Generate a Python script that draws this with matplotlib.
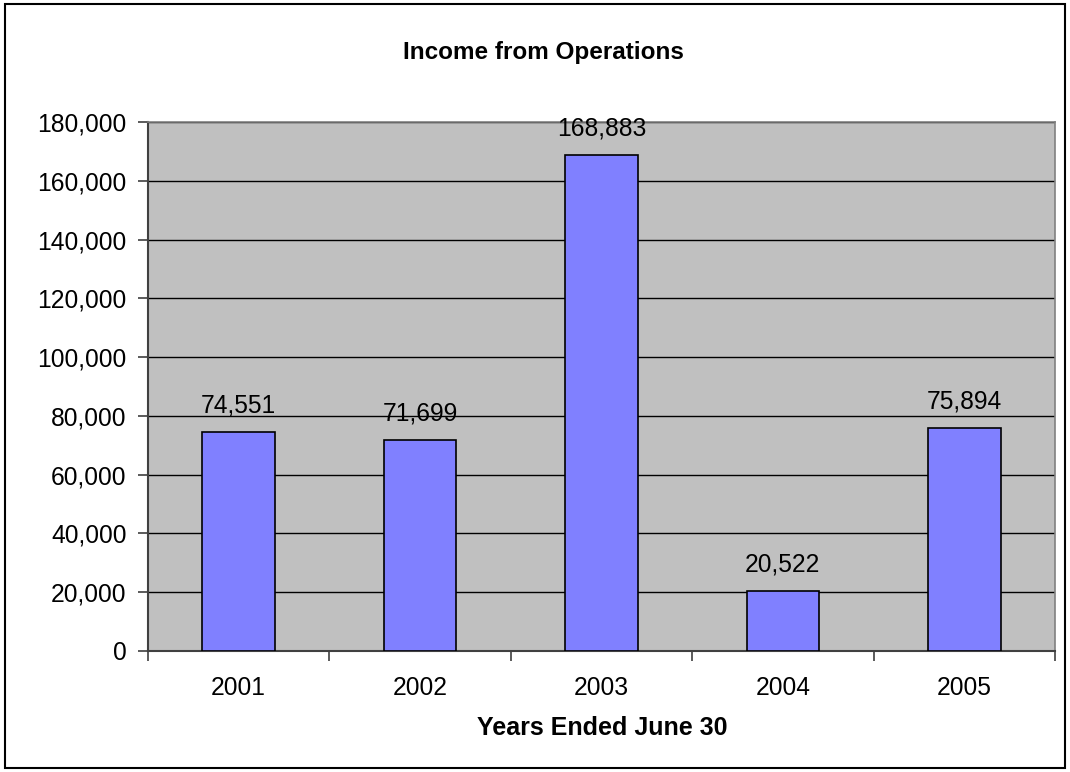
import matplotlib.pyplot as plt
from matplotlib.patches import Rectangle
from matplotlib.ticker import FuncFormatter, FixedLocator

years = ["2001", "2002", "2003", "2004", "2005"]
income = [74551, 71699, 168883, 20522, 75894]

plt.rcParams["font.family"] = ["Liberation Sans", "DejaVu Sans"]

fig = plt.figure(figsize=(10.7, 7.72), dpi=100)
ax = fig.add_axes([148 / 1070, 1 - 651 / 772, (1055 - 148) / 1070, (651 - 122) / 772])
ax.set_facecolor("#C0C0C0")

x = list(range(len(years)))
bars = ax.bar(x, income, width=0.4, color="#8080FF", edgecolor="black", linewidth=1.2, zorder=3)

# value labels above bars
for b, v in zip(bars, income):
    ax.annotate(f"{v:,}", (b.get_x() + b.get_width() / 2, v),
                xytext=(0, 14), textcoords="offset points",
                ha="center", va="baseline", fontsize=17.7)

ax.set_xlim(-0.5, len(years) - 0.5)
ax.set_ylim(0, 180000)
ax.set_yticks(range(0, 180001, 20000))
ax.yaxis.set_major_formatter(FuncFormatter(lambda v, p: f"{int(v):,}"))
ax.yaxis.grid(True, color="black", linewidth=1, zorder=1)
ax.set_axisbelow(True)

ax.set_xticks(x)
ax.set_xticklabels(years, fontsize=17.7)
ax.tick_params(axis="x", which="major", length=0, pad=18)
ax.xaxis.set_minor_locator(FixedLocator([i - 0.5 for i in range(len(years) + 1)]))
ax.tick_params(axis="x", which="minor", length=7, width=1.2, color="#404040", direction="out")
ax.tick_params(axis="y", labelsize=17.7, length=7, width=1.2, color="#404040", direction="out", pad=8.5)

for side in ["left", "bottom"]:
    ax.spines[side].set_color("#404040")
    ax.spines[side].set_linewidth(1.5)
for side in ["top", "right"]:
    ax.spines[side].set_color("#808080")
    ax.spines[side].set_linewidth(1.2)

fig.text(543 / 1070, 1 - 53 / 772, "Income from Operations", ha="center", va="center",
         fontsize=17.5, fontweight="bold")
fig.text(602 / 1070, 1 - 728 / 772, "Years Ended June 30", ha="center", va="center",
         fontsize=18, fontweight="bold")

# border round the whole figure
fig.patches.append(Rectangle((5 / 1070, 4 / 772), 1060 / 1070, 764 / 772,
                             transform=fig.transFigure, fill=False,
                             edgecolor="black", linewidth=1.5))

fig.savefig("out.png", dpi=100)
